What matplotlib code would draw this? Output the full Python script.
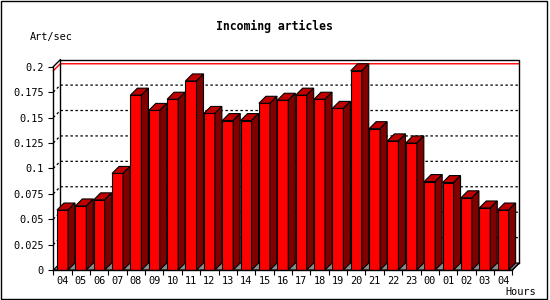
import matplotlib
matplotlib.use('Agg')
import matplotlib.pyplot as plt
from matplotlib.patches import Polygon, Rectangle

# ~~~~~~~~~~~~~~~~~~~~~~~~~~~~~~~~~~~~~~~~~~~~~~~~~~~~~~~~~~~~~~~~~~~~~~~~~~~~~~~~~~~~~~~~

hours = ['04', '05', '06', '07', '08', '09', '10', '11', '12', '13', '14', '15', '16',
         '17', '18', '19', '20', '21', '22', '23', '00', '01', '02', '03', '04']
rates = [0.059, 0.063, 0.069, 0.095, 0.172, 0.157, 0.168, 0.186, 0.154, 0.147, 0.147,
         0.164, 0.167, 0.172, 0.168, 0.159, 0.196, 0.139, 0.127, 0.125, 0.087, 0.086,
         0.071, 0.061, 0.059]
yticks = [0, 0.025, 0.05, 0.075, 0.1, 0.125, 0.15, 0.175, 0.2]
ytick_labels = ['0', '0.025', '0.05', '0.075', '0.1', '0.125', '0.15', '0.175', '0.2']

mono = 'DejaVu Sans Mono'

# ~~~~~~~~~~~~~~~~~~~~~~~~~~~~~~~~~~~~~~~~~~~~~~~~~~~~~~~~~~~~~~~~~~~~~~~~~~~~~~~~~~~~~~~~

fig = plt.figure(figsize=(5.5, 3.0), dpi=100)
fig.patch.set_facecolor('white')
ax = fig.add_axes([53.3 / 550, 30 / 300, 459 / 550, 203.3 / 300])
ax.set_facecolor('none')

n = len(hours)
xmin, xmax = -0.5, n - 0.5
ymax = 0.2
ax.set_xlim(xmin, xmax)
ax.set_ylim(0, ymax)

# depth of the 3d effect, 7 px converted to data units
px_x = 459 / n
px_y = 203.3 / ymax
dx = 7 / px_x
dy = 7 / px_y

# floor
floor = Polygon([(xmin, 0), (xmax, 0), (xmax + dx, dy), (xmin + dx, dy)],
                closed=True, facecolor='#8c8c8c', edgecolor='black', lw=0.8,
                clip_on=False, zorder=1)
ax.add_patch(floor)

# grid on the back wall
for v in yticks[1:-1]:
    ax.plot([xmin, xmin + dx, xmax + dx], [v, v + dy, v + dy], color='black',
            lw=0.9, ls=(0, (2, 2)), clip_on=False, zorder=1.5)

# max line
vmax = max(rates)
ax.plot([xmin, xmin + dx, xmax + dx], [vmax, vmax + dy, vmax + dy], color='red',
        lw=1.0, clip_on=False, zorder=1.6)

# back wall frame
ax.plot([xmin + dx, xmin + dx, xmax + dx, xmax + dx], [dy, ymax + dy, ymax + dy, dy],
        color='black', lw=1.0, clip_on=False, zorder=1.7)
ax.plot([xmin, xmin + dx], [ymax, ymax + dy], color='black', lw=1.0, clip_on=False, zorder=1.7)
ax.plot([xmax, xmax + dx], [0, dy], color='black', lw=1.0, clip_on=False, zorder=1.7)

# bars: front from ax.bar, top and side as polygons
bw = 0.6
bars = ax.bar(range(n), rates, width=bw, color='#ff0000', edgecolor='black',
              lw=0.8, zorder=3)
for b in bars:
    x0 = b.get_x()
    x1 = x0 + b.get_width()
    h = b.get_height()
    top = Polygon([(x0, h), (x1, h), (x1 + dx, h + dy), (x0 + dx, h + dy)],
                  closed=True, facecolor='#c00000', edgecolor='black', lw=0.8,
                  clip_on=False, zorder=3)
    side = Polygon([(x1, 0), (x1 + dx, dy), (x1 + dx, h + dy), (x1, h)],
                   closed=True, facecolor='#800000', edgecolor='black', lw=0.8,
                   clip_on=False, zorder=3)
    ax.add_patch(top)
    ax.add_patch(side)

# axes
for s in ['top', 'right']:
    ax.spines[s].set_visible(False)
for s in ['left', 'bottom']:
    ax.spines[s].set_linewidth(1.0)
    ax.spines[s].set_zorder(4)

ax.set_yticks(yticks)
ax.set_yticklabels(ytick_labels, fontfamily=mono, fontsize=7.4)
ax.tick_params(axis='y', length=3.5, width=0.8, pad=3.5)

ax.set_xticks(range(n))
ax.set_xticklabels(hours, fontfamily=mono, fontsize=7.4)
ax.set_xticks([i - 0.5 for i in range(n + 1)], minor=True)
ax.tick_params(axis='x', which='major', length=0, pad=4.5)
ax.tick_params(axis='x', which='minor', length=3.5, width=0.8)

# texts
fig.text(274 / 550, 1 - 26.7 / 300, 'Incoming articles', ha='center', va='center',
         fontfamily=mono, fontweight='bold', fontsize=8.3)
fig.text(30 / 550, 1 - 36.7 / 300, 'Art/sec', ha='left', va='center',
         fontfamily=mono, fontsize=7.4)
fig.text(505 / 550, 1 - 291.7 / 300, 'Hours', ha='left', va='center',
         fontfamily=mono, fontsize=7.4)

# outer frame
fig.add_artist(Rectangle((1 / 550, 1.3 / 300), 545.7 / 550, 297.4 / 300,
                         transform=fig.transFigure, fill=False, edgecolor='black', lw=1.0))

fig.savefig('out.png', dpi=100)
